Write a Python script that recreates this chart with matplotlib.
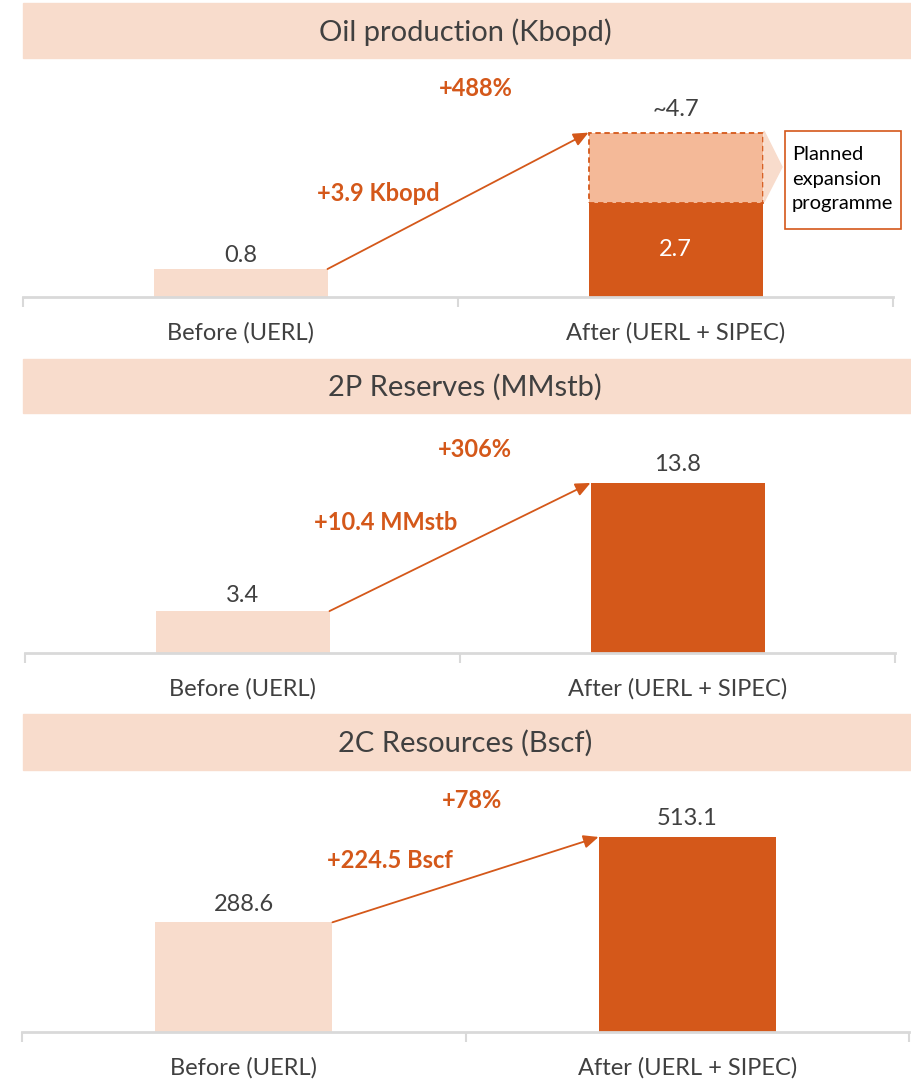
import matplotlib.pyplot as plt
from matplotlib.patches import Rectangle, Polygon

plt.rcParams['font.family'] = ['Lato', 'DejaVu Sans']

DARK = '#D4581A'
PEACH = '#F8DCCC'
MID = '#F4B998'
GREY_TXT = '#404040'
AXIS = '#D9D9D9'

W, H = 911, 1080

categories = ['Before (UERL)', 'After (UERL + SIPEC)']
titles = ['Oil production (Kbopd)', '2P Reserves (MMstb)', '2C Resources (Bscf)']
before_vals = [0.8, 3.4, 288.6]
after_vals = [2.7, 13.8, 513.1]
planned_total = 4.7            # oil only: current + planned expansion
change_labels = ['+3.9 Kbopd', '+10.4 MMstb', '+224.5 Bscf']
pct_labels = ['+488%', '+306%', '+78%']
before_txt = ['0.8', '3.4', '288.6']
after_txt = ['2.7', '13.8', '513.1']

# layout in pixels: header band (top, bottom), axes (left, right, top, baseline), ymax
headers = [(3, 58), (359, 413), (714, 770)]
axes_px = [(23, 893, 70, 297), (25, 895, 425, 653), (22, 909, 780, 1032)]
ymax = [6.49, 18.5, 663]
pct_pos = [(1.04, 5.97), (1.034, 16.5), (1.015, 610)]
chg_pos = [(0.816, 2.97), (0.83, 10.57), (0.83, 450)]
lbl_gap = [2, 4, 5]

fig = plt.figure(figsize=(W / 100, H / 100), dpi=100)


def fx(px):
    return px / W


def fy(py):
    return 1 - py / H


for i in range(3):
    # header band
    t, b = headers[i]
    fig.patches.append(Rectangle((fx(23), fy(b)), fx(W - 23), (b - t) / H,
                                 transform=fig.transFigure, color=PEACH, zorder=0))
    fig.text(fx(465), fy((t + b) / 2 + 1.5), titles[i], ha='center', va='center',
             fontsize=21, color=GREY_TXT)

    l, r, top, base = axes_px[i]
    ax = fig.add_axes([fx(l), fy(base), (r - l) / W, (base - top) / H])
    ax.set_xlim(0, 2)
    ax.set_ylim(0, ymax[i])
    for s in ['top', 'right', 'left']:
        ax.spines[s].set_visible(False)
    ax.spines['bottom'].set_color(AXIS)
    ax.spines['bottom'].set_linewidth(2)
    ax.set_yticks([])
    ax.set_xticks([0.5, 1.5])
    ax.set_xticklabels(categories, fontsize=17, color=GREY_TXT)
    ax.tick_params(axis='x', which='major', length=0, pad=18)
    ax.set_xticks([0, 1, 2], minor=True)
    ax.tick_params(axis='x', which='minor', length=7, width=1.5, color=AXIS)

    bw = 0.4
    ax.bar(0.5, before_vals[i], width=bw, color=PEACH, zorder=2)
    ax.bar(1.5, after_vals[i], width=bw, color=DARK, zorder=2)

    top_after = after_vals[i]
    if i == 0:
        top_after = planned_total
        ax.bar(1.5, planned_total - after_vals[i], bottom=after_vals[i], width=bw,
               color=MID, edgecolor=DARK, linestyle=(0, (3, 2)), linewidth=1.3, zorder=2)
        ax.text(1.5, after_vals[i] / 2, after_txt[i], ha='center', va='center',
                fontsize=17, color='white', zorder=4)
        ax.annotate('~' + str(planned_total), (1.5, planned_total), xytext=(0, 9),
                    textcoords='offset points', ha='center', va='bottom',
                    fontsize=17, color=GREY_TXT)
    else:
        ax.annotate(after_txt[i], (1.5, after_vals[i]), xytext=(0, 6),
                    textcoords='offset points', ha='center', va='bottom',
                    fontsize=17, color=GREY_TXT)

    ax.annotate(before_txt[i], (0.5, before_vals[i]), xytext=(0, lbl_gap[i]),
                textcoords='offset points', ha='center', va='bottom',
                fontsize=17, color=GREY_TXT)

    ax.annotate('', xy=(1.5 - bw / 2, top_after), xytext=(0.5 + bw / 2, before_vals[i]),
                arrowprops=dict(arrowstyle='-|>,head_length=0.9,head_width=0.4',
                                color=DARK, lw=1.3, shrinkA=0, shrinkB=0), zorder=5)

    ax.text(*pct_pos[i], pct_labels[i], ha='center', va='center', fontsize=17,
            fontweight='bold', color=DARK)
    ax.text(*chg_pos[i], change_labels[i], ha='center', va='center', fontsize=17,
            fontweight='bold', color=DARK)

    if i == 0:
        # chevron pointing at the callout box
        chev = Polygon([(fx(764), fy(131)), (fx(782), fy(167)), (fx(764), fy(202))],
                       closed=True, transform=fig.transFigure, color=PEACH, zorder=1)
        fig.patches.append(chev)
        fig.patches.append(Rectangle((fx(785), fy(229)), (901 - 785) / W, (229 - 131) / H,
                                     transform=fig.transFigure, facecolor='white',
                                     edgecolor=DARK, linewidth=1.2, zorder=1))
        fig.text(fx(792), fy(179), 'Planned\nexpansion\nprogramme', ha='left', va='center',
                 fontsize=14.5, color='black', linespacing=1.55)

fig.savefig('out.png', dpi=100)
